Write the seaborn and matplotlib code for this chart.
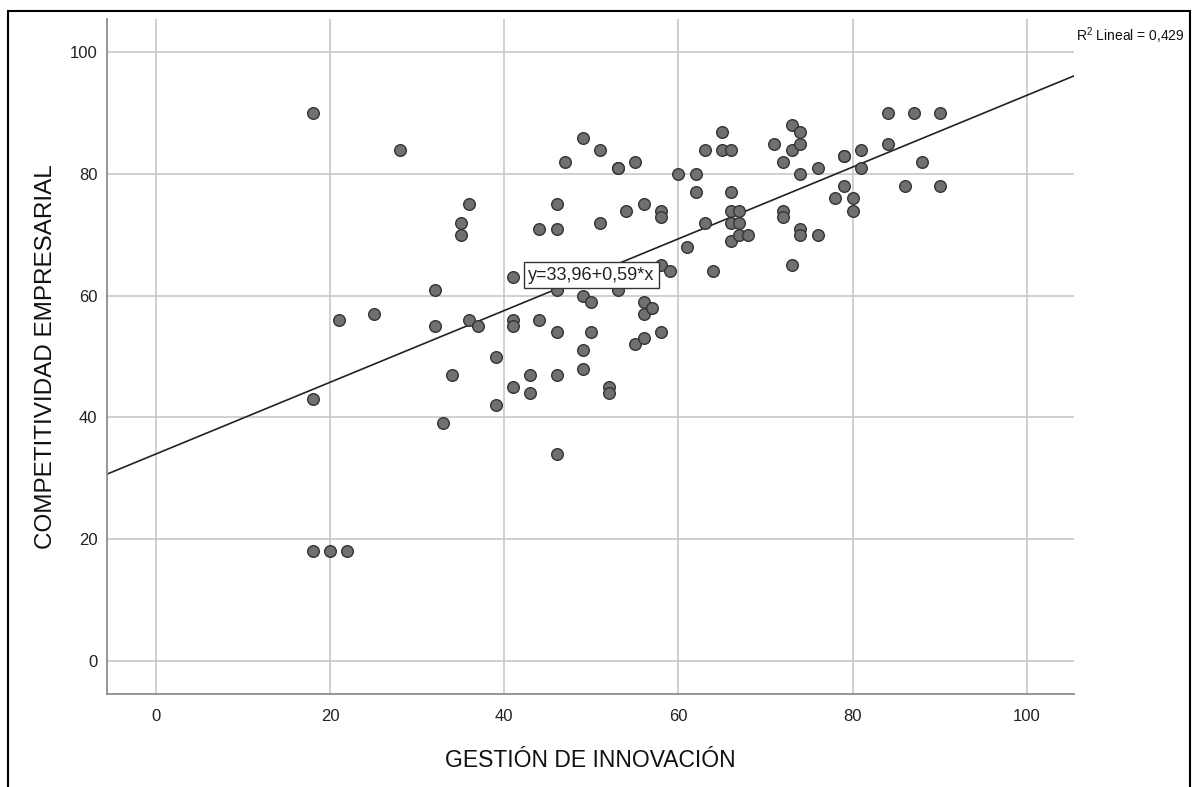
import pandas as pd
import matplotlib.pyplot as plt
import seaborn as sns
from matplotlib.patches import Rectangle

# puntos (x = gestion de innovacion, y = competitividad empresarial)
gestion = [18, 28, 18, 21, 25, 18, 20, 22,
           32, 32, 33, 34, 35, 35, 36, 36, 37, 39, 39,
           41, 41, 41, 41, 43, 43, 44, 44,
           46, 46, 46, 46, 46, 46, 47,
           49, 49, 49, 49, 50, 50, 51, 51,
           52, 52, 53, 53, 53, 54, 55, 55,
           56, 56, 56, 56, 57, 58, 58, 58, 58, 59,
           60, 61, 62, 62, 63, 63, 64,
           65, 65, 66, 66, 66, 66, 66, 67, 67, 67, 68,
           71, 72, 72, 72, 73, 73, 73, 74, 74, 74, 74, 74,
           76, 76, 78, 79, 79, 79, 80, 80, 81, 81,
           84, 84, 86, 87, 88, 90, 90]
competitividad = [90, 84, 43, 56, 57, 18, 18, 18,
                  61, 55, 39, 47, 72, 70, 75, 56, 55, 50, 42,
                  63, 56, 55, 45, 47, 44, 71, 56,
                  75, 71, 61, 54, 47, 34, 82,
                  86, 60, 51, 48, 59, 54, 84, 72,
                  45, 44, 81, 81, 61, 74, 82, 52,
                  75, 59, 57, 53, 58, 74, 73, 65, 54, 64,
                  80, 68, 80, 77, 84, 72, 64,
                  87, 84, 84, 77, 74, 72, 69, 74, 72, 70, 70,
                  85, 82, 74, 73, 88, 84, 65, 87, 85, 80, 71, 70,
                  81, 70, 76, 83, 83, 78, 76, 74, 84, 81,
                  90, 85, 78, 90, 82, 90, 78]

intercepto = 33.96
pendiente = 0.59
r2 = "0,429"
ticks = [0, 20, 40, 60, 80, 100]

df = pd.DataFrame({'gestion': gestion, 'competitividad': competitividad})

sns.set_theme(style="whitegrid")
plt.rcParams['font.family'] = ['Liberation Sans', 'DejaVu Sans']
plt.rcParams['mathtext.fontset'] = 'custom'
plt.rcParams['mathtext.rm'] = 'Liberation Sans'

fig = plt.figure(figsize=(11.93, 7.87), dpi=100)
ax = fig.add_axes([107 / 1193, 1 - 694 / 787, (1074 - 107) / 1193, (694 - 19) / 787])

sns.scatterplot(data=df, x='gestion', y='competitividad', ax=ax, s=70,
                color='#707070', edgecolor='#333333', linewidth=1, zorder=3)
ax.axline((0, intercepto), slope=pendiente, color='#222222', lw=1.2, zorder=2)

ax.set_xlim(-5.6, 105.4)
ax.set_ylim(-5.5, 105.5)
ax.set_xticks(ticks)
ax.set_yticks(ticks)
ax.grid(True, color='#c8c8c8', lw=1.2)
for s in ['top', 'right']:
    ax.spines[s].set_visible(False)
for s in ['left', 'bottom']:
    ax.spines[s].set_color('#8c8c8c')
    ax.spines[s].set_linewidth(1.3)
ax.tick_params(axis='both', length=0, colors='#222222', labelsize=12)
ax.tick_params(axis='x', pad=11)
ax.tick_params(axis='y', pad=7)

ax.set_xlabel('GESTIÓN DE INNOVACIÓN', fontsize=16.5, color='#111111', labelpad=18)
ax.set_ylabel('COMPETITIVIDAD EMPRESARIAL', fontsize=17.5, color='#111111', labelpad=9)

ax.text(50, 63.4, f'y={intercepto:.2f}+{pendiente:.2f}*x'.replace('.', ','),
        ha='center', va='center', fontsize=13, color='#222222', zorder=4,
        bbox=dict(boxstyle='square,pad=0.25', fc='white', ec='#333333', lw=1))

fig.text(1076 / 1193, 1 - 36 / 787, r'$\mathrm{R}^{2}$ Lineal = ' + r2,
         fontsize=10, va='center', ha='left', color='#111111')

fig.patches.append(Rectangle((8 / 1193, -0.05), (1190 - 8) / 1193, 1.05 - 11 / 787,
                             transform=fig.transFigure, fill=False, ec='black', lw=1.5))

plt.savefig('out.png', dpi=100)
